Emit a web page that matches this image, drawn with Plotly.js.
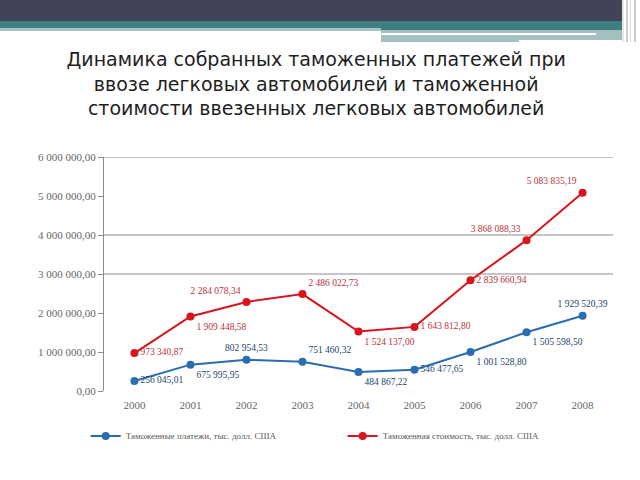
<!DOCTYPE html>
<html>
<head>
<meta charset="utf-8">
<script src="https://cdn.plot.ly/plotly-3.0.1.min.js"></script>
<style>
  body { margin: 0; padding: 0; background: #ffffff; }
  #wrap { position: relative; width: 640px; height: 480px; overflow: hidden; }
  #chart { position: absolute; left: 0; top: 0; width: 640px; height: 480px; }
  .deco { position: absolute; z-index: 5; }
</style>
</head>
<body>
<div id="wrap">
  <div id="chart"></div>
  <div class="deco" style="left:0;top:0;width:622px;height:21px;background:#414356;"></div>
  <div class="deco" style="left:0;top:21px;width:622px;height:9px;background:#3f7f82;"></div>
  <div class="deco" style="left:0;top:28px;width:381px;height:3px;background:#a6c2c4;"></div>
  <div class="deco" style="left:381px;top:30px;width:241px;height:10px;background:#a3bfc2;"></div>
  <div class="deco" style="left:381px;top:33px;width:215px;height:2px;background:#ffffff;"></div>
  <div class="deco" style="left:381px;top:38px;width:138px;height:4px;background:#a3bfc2;"></div>
  <div class="deco" style="left:622px;top:0;width:2px;height:42px;background:#e6e6e6;"></div>
  <div class="deco" style="left:626px;top:0;width:2px;height:42px;background:#cfcfcf;"></div>
  <div class="deco" style="left:630px;top:0;width:1px;height:42px;background:#dadada;"></div>
  <div class="deco" style="left:634px;top:0;width:2px;height:42px;background:#c8c8c8;"></div>
</div>
<script>
// ---- data ----
var years = ["2000", "2001", "2002", "2003", "2004", "2005", "2006", "2007", "2008"];
var paymentsName = "Таможенные платежи, тыс. долл. США";
var payments = [256045.01, 675995.95, 802954.53, 751460.32, 484867.22, 546477.65, 1001528.80, 1505598.50, 1929520.39];
var valueName = "Таможенная стоимость, тыс. долл. США";
var customsValue = [973340.87, 1909448.58, 2284078.34, 2486022.73, 1524137.00, 1643812.80, 2839660.94, 3868088.33, 5083835.19];
var yTicks = [0, 1000000, 2000000, 3000000, 4000000, 5000000, 6000000];
var gridLevels = [3000000, 4000000, 6000000];
var chartTitle = "Динамика собранных таможенных платежей при<br>ввозе легковых автомобилей и таможенной<br>стоимости ввезенных легковых автомобилей";

// ---- styles ----
var blueLabelPos = ["middle right", "bottom right", "top center", "top right", "bottom right", "middle right", "bottom right", "bottom right", "top center"];
var redLabelPos = ["middle right", "bottom right", "top left", "top right", "bottom right", "middle right", "middle right", "top left", "top left"];

var serif = "Liberation Serif, Times New Roman, serif";

var traces = [
  {
    x: years, y: payments, name: paymentsName,
    type: "scatter", mode: "lines+markers+text",
    line: {color: "#2a6db0", width: 2},
    marker: {color: "#2a6db0", size: 8},
    texttemplate: "%{y:,.2f}",
    textposition: blueLabelPos,
    textfont: {family: serif, size: 9.5, color: "#23446e"},
    cliponaxis: false
  },
  {
    x: years, y: customsValue, name: valueName,
    type: "scatter", mode: "lines+markers+text",
    line: {color: "#d8141c", width: 2},
    marker: {color: "#d8141c", size: 8},
    texttemplate: "%{y:,.2f}",
    textposition: redLabelPos,
    textfont: {family: serif, size: 9.5, color: "#b8323a"},
    cliponaxis: false
  }
];

var shapes = gridLevels.map(function (v) {
  return {type: "line", xref: "paper", x0: 0, x1: 1, yref: "y", y0: v, y1: v,
          line: {color: "#8c8c8c", width: 1}, layer: "below"};
});

var layout = {
  width: 640, height: 480,
  margin: {l: 104, r: 27, t: 157, b: 89},
  paper_bgcolor: "#ffffff", plot_bgcolor: "#ffffff",
  separators: ", ",
  showlegend: true,
  title: {
    text: chartTitle,
    font: {family: "DejaVu Sans, sans-serif", size: 19, color: "#1e1e1e"},
    x: 0.494, xanchor: "center", xref: "container",
    y: 1 - 66 / 480, yanchor: "top", yref: "container"
  },
  xaxis: {
    type: "category",
    showgrid: false, zeroline: false, showline: false,
    ticks: "", ticklabelstandoff: 6,
    tickfont: {family: serif, size: 11, color: "#666666"},
    fixedrange: true
  },
  yaxis: {
    range: [0, 6000000],
    tickvals: yTicks,
    tickformat: ",.2f",
    showgrid: false, zeroline: false,
    showline: true, linecolor: "#8a8a8a", linewidth: 1,
    ticks: "outside", ticklen: 5, tickcolor: "#8a8a8a",
    tickfont: {family: serif, size: 11, color: "#666666"},
    fixedrange: true
  },
  shapes: shapes,
  legend: {
    orientation: "h",
    x: -0.036, xanchor: "left",
    y: -0.13, yanchor: "top",
    font: {family: serif, size: 9, color: "#595959"},
    entrywidth: 212,
    itemwidth: 30,
    bgcolor: "rgba(0,0,0,0)"
  }
};

Plotly.newPlot("chart", traces, layout, {displayModeBar: false, staticPlot: true});
</script>
</body>
</html>
